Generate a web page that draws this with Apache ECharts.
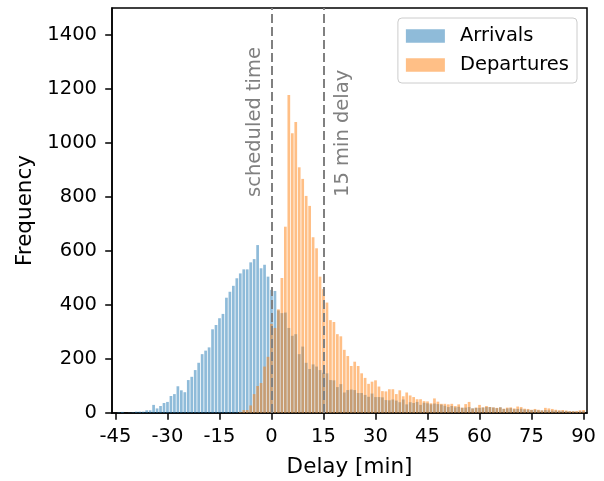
<!DOCTYPE html>
<html>
<head>
<meta charset="utf-8">
<script src="https://cdn.jsdelivr.net/npm/echarts@6/dist/echarts.min.js"></script>
<style>
  html, body { margin: 0; padding: 0; background: #ffffff; }
  #chart { width: 604px; height: 481px; }
</style>
</head>
<body>
<div id="chart"></div>
<script>
// Histogram of flight delays in 1-minute bins; first bin is centred on -45 min.
const BIN_START = -45;

// Counts per bin, from -45 min to +90 min
const arrivals = [
  0, 2, 4, 0, 1, 2, 5, 5, 5, 10,          // -45 .. -36
  10, 30, 17, 26, 37, 41, 63, 70, 99, 84, // -35 .. -26
  77, 122, 134, 159, 186, 218, 231, 243, 310, 326, // -25 .. -16
  351, 367, 427, 449, 471, 499, 517, 532, 532, 558, // -15 .. -6
  570, 622, 536, 549, 505,                // -5 .. -1
  456, 452, 380, 370, 372, 315, 286, 292, 218, 246, // 0 .. 9
  186, 163, 180, 172, 159, 149, 147, 122, 121, 96,  // 10 .. 19
  107, 76, 85, 87, 85, 74, 74, 67, 60, 72,          // 20 .. 29
  59, 59, 58, 48, 47, 50, 46, 40, 50, 32,           // 30 .. 39
  40, 37, 41, 30, 38, 36, 32, 35, 33, 31,           // 40 .. 49
  27, 22, 26, 21, 23, 19, 20, 22, 17, 19,           // 50 .. 59
  19, 20, 22, 22, 20, 18, 21, 15, 17, 18,           // 60 .. 69
  14, 15, 16, 13, 12, 11, 12, 10, 9, 11,            // 70 .. 79
  10, 9, 9, 8, 8, 7, 6, 6, 5, 6,                    // 80 .. 89
  7                                                 // 90
];

const departures = [
  0, 0, 0, 0, 0, 0, 0, 0, 0, 0,           // -45 .. -36
  0, 0, 0, 0, 0, 0, 0, 0, 0, 0,           // -35 .. -26
  0, 0, 0, 0, 0, 0, 0, 0, 0, 0,           // -25 .. -16
  0, 0, 0, 0, 0, 0, 3, 11, 11, 28,        // -15 .. -6
  70, 100, 111, 172, 208,                 // -5 .. -1
  330, 315, 384, 500, 690, 1178, 1036, 1078, 910, 867, // 0 .. 9
  804, 767, 651, 610, 505, 459, 409, 344, 337, 292,    // 10 .. 19
  284, 234, 211, 174, 190, 174, 147, 130, 108, 116,    // 20 .. 29
  121, 98, 81, 80, 88, 88, 70, 84, 62, 76,             // 30 .. 39
  65, 59, 51, 51, 44, 43, 36, 54, 42, 34,              // 40 .. 49
  34, 32, 34, 26, 32, 20, 33, 41, 17, 20,              // 50 .. 59
  30, 21, 26, 22, 21, 19, 21, 16, 20, 21,              // 60 .. 69
  17, 24, 22, 16, 15, 12, 15, 12, 10, 19,              // 70 .. 79
  17, 15, 12, 10, 11, 9, 7, 7, 7, 10,                  // 80 .. 89
  11                                                   // 90
];

const xTicks = [-45, -30, -15, 0, 15, 30, 45, 60, 75, 90];
const yTicks = [0, 200, 400, 600, 800, 1000, 1200, 1400];

// Reference lines with their captions
const refLines = [
  { x: 0, caption: 'scheduled time', side: 'left' },
  { x: 15, caption: '15 min delay', side: 'right' }
];

const FONT = 'DejaVu Sans';
const FS = 19.5;        // tick labels, legend, captions
const FS_TITLE = 21.5;  // axis titles
const GRAY = '#808080';

const toPairs = counts => counts.map((c, i) => [BIN_START + i, c]);
const plain = v => String(v);

const chart = echarts.init(document.getElementById('chart'), null, { renderer: 'canvas' });

const option = {
  animation: false,
  backgroundColor: '#ffffff',
  textStyle: { fontFamily: FONT },
  grid: {
    left: 112, right: 17, top: 8, bottom: 68,
    containLabel: false,
    outerBoundsMode: 'none',
    show: true, borderColor: '#000000', borderWidth: 1.5,
    backgroundColor: 'transparent'
  },
  legend: {
    orient: 'vertical',
    right: 27, top: 18,
    padding: [8, 8, 8, 8],
    itemWidth: 39, itemHeight: 13.6, itemGap: 9,
    backgroundColor: 'rgba(255,255,255,0.8)',
    borderColor: '#cccccc', borderWidth: 1, borderRadius: 4,
    icon: 'rect',
    textStyle: { fontFamily: FONT, fontSize: FS, color: '#000000', padding: [0, 0, 0, 10] },
    data: ['Arrivals', 'Departures']
  },
  xAxis: {
    type: 'value',
    min: -46, max: 91,
    name: 'Delay [min]', nameLocation: 'middle', nameGap: 43,
    nameTextStyle: { fontFamily: FONT, fontSize: FS_TITLE, color: '#000000' },
    axisLine: { show: true, onZero: false, lineStyle: { color: '#000000', width: 1.5 } },
    axisTick: { show: true, length: 6.8, lineStyle: { color: '#000000', width: 1.5 }, customValues: xTicks },
    axisLabel: { fontFamily: FONT, fontSize: FS, color: '#000000', margin: 14, customValues: xTicks, formatter: plain },
    splitLine: { show: false }
  },
  yAxis: {
    type: 'value',
    min: 0, max: 1500, interval: 100,
    name: 'Frequency', nameLocation: 'middle', nameGap: 62,
    nameTextStyle: { fontFamily: FONT, fontSize: FS_TITLE, color: '#000000' },
    axisLine: { show: true, onZero: false, lineStyle: { color: '#000000', width: 1.5 } },
    axisTick: { show: true, length: 6.8, lineStyle: { color: '#000000', width: 1.5 }, customValues: yTicks },
    axisLabel: { fontFamily: FONT, fontSize: FS, color: '#000000', margin: 15, customValues: yTicks, formatter: plain },
    splitLine: { show: false }
  },
  series: [
    {
      name: 'Arrivals',
      type: 'bar',
      data: toPairs(arrivals),
      barWidth: 2.7,
      barGap: '-100%',
      itemStyle: { color: 'rgba(31,119,180,0.5)' },
      z: 2
    },
    {
      name: 'Departures',
      type: 'bar',
      data: toPairs(departures),
      barWidth: 2.7,
      barGap: '-100%',
      itemStyle: { color: 'rgba(255,127,14,0.5)' },
      z: 3,
      markLine: {
        silent: true,
        symbol: ['none', 'none'],
        label: { show: false },
        lineStyle: { color: GRAY, type: [9, 4], width: 2 },
        data: refLines.map(r => ({ xAxis: r.x }))
      },
      markPoint: {
        silent: true,
        symbol: 'circle',
        symbolSize: 0,
        data: refLines.map(r => ({
          coord: [r.x + (r.side === 'left' ? -1.9 : 2.8), 800],
          label: {
            show: true,
            formatter: r.caption,
            position: [0, 0],
            rotate: 90,
            align: 'left',
            verticalAlign: r.side === 'left' ? 'bottom' : 'top',
            fontFamily: FONT,
            fontSize: FS,
            color: GRAY
          }
        }))
      }
    }
  ]
};

chart.setOption(option);
</script>
</body>
</html>
